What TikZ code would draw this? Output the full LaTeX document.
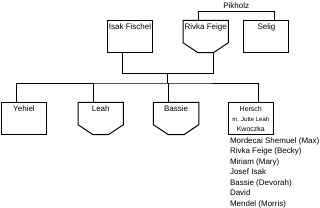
\documentclass[tikz,border=0pt]{standalone}
\usepackage{fontspec}
\setmainfont{Liberation Sans}
\usepackage{tikz}
\usetikzlibrary{calc,positioning}
\definecolor{treeInk}{HTML}{000000}
\tikzset{
  tie/.style={draw=treeInk, line width=0.8pt},
  outline/.style={draw=treeInk, line width=1pt},
  person/.style={rectangle, minimum width=45pt, minimum height=32pt,
    inner xsep=1pt, inner ysep=3pt, font=\fontsize{8}{9}\selectfont},
  name top/.style={text height=6pt, text depth=20pt},
  male/.style={person, name top, outline},
  female/.style={person, name top},
  couple/.style={person, outline, align=center,
    font=\fontsize{7}{10}\selectfont},
  kid list/.style={align=left, inner xsep=2pt, inner ysep=1pt,
    font=\fontsize{8}{10.5}\selectfont},
  family name/.style={above, inner sep=2.5pt, font=\fontsize{8}{9}\selectfont}
}
\begin{document}
\begin{tikzpicture}[x=1pt, y=1pt, node distance=30pt]
  \useasboundingbox (0,0) rectangle (320,-207);
  \node[male, anchor=north west] (isak) at (107,-20) {Isak Fischel};
  \node[female, right=30pt of isak] (rivka) {Rivka Feige};
  \node[male, right=15pt of rivka] (selig) {Selig};
  \node[male, anchor=north west] (yehiel) at (1,-102) {Yehiel};
  \node[female, right=31pt of yehiel] (leah) {Leah};
  \node[female, right=30pt of leah] (bassie) {Bassie};
  \node[couple, right=29pt of bassie] (hersch)
    {Hersch\\{\fontsize{6}{10}\selectfont m. Jutte Leah}\\Kwoczka};
  \node[kid list, below=1pt of hersch.south west, anchor=north west] (kids)
    {Mordecai Shemuel (Max)\\Rivka Feige (Becky)\\Miriam (Mary)\\Josef Isak\\
     Bassie (Devorah)\\David\\Mendel (Morris)};
  \foreach \w in {rivka,leah,bassie}
    \draw[outline] (\w.north west) -- (\w.north east)
      -- ([yshift=10pt]\w.south east) -- ([xshift=-15pt]\w.south east)
      -- ([xshift=15pt]\w.south west) -- ([yshift=10pt]\w.south west) -- cycle;
  \draw[tie] ([xshift=15pt]rivka.north west) -- ++(0,9pt)
    -| node[family name, pos=0.25] (pikholz) {Pikholz} ([xshift=-15pt]selig.north east);
  \draw[tie] ([xshift=15pt]isak.south west) -- ++(0,-20pt)
    -| coordinate[pos=0.25] (family) ([xshift=-15pt]rivka.south east);
  \draw[tie] (family) -- ++(0,-10pt) coordinate (bar);
  \draw[tie] ([xshift=15pt]yehiel.north west) |- (bar) -| ([xshift=-15pt]hersch.north east);
  \draw[tie] ([xshift=15pt]leah.north west) -- ([xshift=15pt]leah.north west |- bar);
  \draw[tie] ([xshift=15pt]bassie.north west) -- ([xshift=15pt]bassie.north west |- bar);
\end{tikzpicture}
\end{document}
